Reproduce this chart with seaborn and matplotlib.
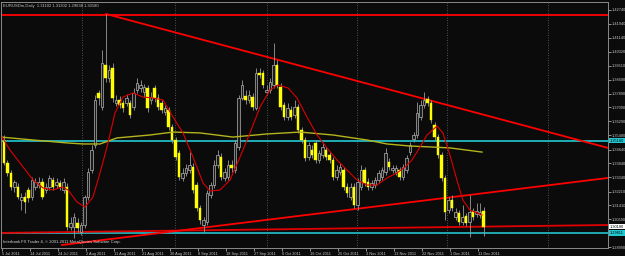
import matplotlib
matplotlib.use("Agg")
import matplotlib.pyplot as plt
import matplotlib.transforms as mtransforms
import numpy as np
import pandas as pd
import seaborn as sns

# ---------------- data ----------------
date_labels = ["5 Jul 2011", "14 Jul 2011", "24 Jul 2011", "2 Aug 2011", "11 Aug 2011",
               "21 Aug 2011", "30 Aug 2011", "8 Sep 2011", "18 Sep 2011", "27 Sep 2011",
               "6 Oct 2011", "16 Oct 2011", "25 Oct 2011", "3 Nov 2011", "13 Nov 2011",
               "22 Nov 2011", "1 Dec 2011", "11 Dec 2011"]

opens = [1.3520, 1.3387, 1.3329, 1.3247, 1.3247, 1.3172, 1.3189, 1.3230, 1.3189, 1.3247,
         1.3259, 1.3276, 1.3230, 1.3247, 1.3288, 1.3259, 1.3271, 1.3230, 1.3247, 1.3015,
         1.3015, 1.3039, 1.2986, 1.3027, 1.3189, 1.3346, 1.3491, 1.3793, 1.3711, 1.3955,
         1.3880, 1.3938, 1.3735, 1.3752, 1.3735, 1.3735, 1.3735, 1.3711, 1.3810, 1.3822,
         1.3798, 1.3822, 1.3752, 1.3822, 1.3764, 1.3735, 1.3682, 1.3694, 1.3595, 1.3520,
         1.3445, 1.3300, 1.3329, 1.3346, 1.3363, 1.3259, 1.3126, 1.3027, 1.3044, 1.3201,
         1.3259, 1.3375, 1.3421, 1.3300, 1.3305, 1.3375, 1.3346, 1.3479, 1.3764, 1.3775,
         1.3752, 1.3769, 1.3706, 1.3909, 1.3909, 1.3798, 1.3810, 1.3839, 1.3955, 1.3827,
         1.3723, 1.3653, 1.3694, 1.3665, 1.3711, 1.3578, 1.3520, 1.3421, 1.3462, 1.3503,
         1.3404, 1.3433, 1.3462, 1.3433, 1.3404, 1.3305, 1.3334, 1.3346, 1.3247, 1.3189,
         1.3247, 1.3143, 1.3247, 1.3346, 1.3276, 1.3247, 1.3259, 1.3288, 1.3305, 1.3334,
         1.3392, 1.3346, 1.3334, 1.3346, 1.3305, 1.3346, 1.3450, 1.3526, 1.3549, 1.3653,
         1.3723, 1.3758, 1.3735, 1.3607, 1.3537, 1.3433, 1.3300, 1.3114, 1.3172, 1.3074,
         1.3097, 1.3044, 1.3079, 1.3044, 1.3108, 1.3091, 1.3085, 1.31102]

highs = [1.3549, 1.3404, 1.3346, 1.3288, 1.3271, 1.3213, 1.3218, 1.3247, 1.3305, 1.3300,
         1.3305, 1.3300, 1.3271, 1.3317, 1.3305, 1.3300, 1.3288, 1.3300, 1.3271, 1.3074,
         1.3097, 1.3068, 1.3044, 1.3201, 1.3358, 1.3491, 1.3781, 1.3810, 1.4042, 1.4251,
         1.3955, 1.3967, 1.3781, 1.3775, 1.3752, 1.3787, 1.3752, 1.3822, 1.3880, 1.3868,
         1.3845, 1.3839, 1.3798, 1.3839, 1.3787, 1.3752, 1.3723, 1.3711, 1.3613, 1.3537,
         1.3462, 1.3358, 1.3381, 1.3450, 1.3387, 1.3276, 1.3143, 1.3074, 1.3230, 1.3276,
         1.3404, 1.3462, 1.3445, 1.3358, 1.3404, 1.3404, 1.3520, 1.3781, 1.3868, 1.3810,
         1.3810, 1.3793, 1.3938, 1.3938, 1.3926, 1.3839, 1.3880, 1.4083, 1.3984, 1.3851,
         1.3740, 1.3735, 1.3717, 1.3752, 1.3729, 1.3595, 1.3537, 1.3508, 1.3491, 1.3520,
         1.3462, 1.3503, 1.3479, 1.3450, 1.3421, 1.3375, 1.3387, 1.3363, 1.3271, 1.3271,
         1.3271, 1.3300, 1.3375, 1.3363, 1.3300, 1.3288, 1.3305, 1.3346, 1.3363, 1.3474,
         1.3416, 1.3375, 1.3375, 1.3363, 1.3381, 1.3433, 1.3508, 1.3566, 1.3740, 1.3752,
         1.3798, 1.3775, 1.3752, 1.3624, 1.3555, 1.3450, 1.3317, 1.3189, 1.3201, 1.3126,
         1.3114, 1.3143, 1.3097, 1.3201, 1.3126, 1.3155, 1.3155, 1.31302]

lows = [1.3375, 1.3311, 1.3230, 1.3218, 1.3178, 1.3114, 1.3097, 1.3160, 1.3172, 1.3230,
        1.3242, 1.3178, 1.3213, 1.3230, 1.3230, 1.3242, 1.3230, 1.3213, 1.2998, 1.2998,
        1.2952, 1.2986, 1.2969, 1.3010, 1.3172, 1.3329, 1.3474, 1.3723, 1.3694, 1.3856,
        1.3856, 1.3740, 1.3717, 1.3706, 1.3682, 1.3717, 1.3648, 1.3694, 1.3793, 1.3798,
        1.3769, 1.3682, 1.3729, 1.3740, 1.3694, 1.3677, 1.3665, 1.3578, 1.3503, 1.3404,
        1.3288, 1.3282, 1.3311, 1.3329, 1.3213, 1.3108, 1.3033, 1.2986, 1.3027, 1.3184,
        1.3242, 1.3358, 1.3288, 1.3282, 1.3288, 1.3334, 1.3329, 1.3462, 1.3752, 1.3729,
        1.3735, 1.3694, 1.3694, 1.3880, 1.3822, 1.3781, 1.3793, 1.3822, 1.3822, 1.3694,
        1.3636, 1.3636, 1.3636, 1.3648, 1.3561, 1.3503, 1.3398, 1.3404, 1.3416, 1.3387,
        1.3387, 1.3416, 1.3404, 1.3387, 1.3288, 1.3288, 1.3317, 1.3230, 1.3189, 1.3172,
        1.3126, 1.3114, 1.3230, 1.3253, 1.3230, 1.3230, 1.3242, 1.3271, 1.3288, 1.3317,
        1.3346, 1.3329, 1.3317, 1.3288, 1.3288, 1.3329, 1.3433, 1.3508, 1.3532, 1.3636,
        1.3706, 1.3717, 1.3619, 1.3520, 1.3416, 1.3282, 1.3056, 1.3097, 1.3108, 1.3056,
        1.3027, 1.3027, 1.3021, 1.2957, 1.3056, 1.3074, 1.3068, 1.29638]

closes = [1.3387, 1.3329, 1.3247, 1.3276, 1.3189, 1.3189, 1.3160, 1.3184, 1.3288, 1.3276,
          1.3276, 1.3189, 1.3247, 1.3300, 1.3247, 1.3276, 1.3247, 1.3276, 1.3015, 1.3039,
          1.3074, 1.3010, 1.3027, 1.3189, 1.3334, 1.3462, 1.3752, 1.3764, 1.3967, 1.3880,
          1.3926, 1.3764, 1.3752, 1.3723, 1.3706, 1.3764, 1.3665, 1.3793, 1.3851, 1.3839,
          1.3827, 1.3706, 1.3769, 1.3764, 1.3711, 1.3694, 1.3706, 1.3595, 1.3520, 1.3421,
          1.3305, 1.3329, 1.3358, 1.3375, 1.3230, 1.3126, 1.3056, 1.3056, 1.3213, 1.3259,
          1.3375, 1.3433, 1.3305, 1.3334, 1.3375, 1.3358, 1.3503, 1.3764, 1.3839, 1.3752,
          1.3781, 1.3711, 1.3909, 1.3897, 1.3839, 1.3810, 1.3856, 1.3955, 1.3839, 1.3711,
          1.3653, 1.3706, 1.3653, 1.3711, 1.3578, 1.3520, 1.3416, 1.3491, 1.3433, 1.3404,
          1.3445, 1.3479, 1.3421, 1.3404, 1.3305, 1.3346, 1.3363, 1.3247, 1.3213, 1.3247,
          1.3143, 1.3276, 1.3346, 1.3271, 1.3247, 1.3271, 1.3288, 1.3329, 1.3346, 1.3445,
          1.3363, 1.3358, 1.3358, 1.3305, 1.3363, 1.3416, 1.3491, 1.3549, 1.3677, 1.3723,
          1.3752, 1.3735, 1.3636, 1.3537, 1.3433, 1.3300, 1.3102, 1.3172, 1.3126, 1.3102,
          1.3044, 1.3074, 1.3039, 1.3102, 1.3074, 1.3108, 1.3102, 1.30180]

# fast (red) moving average, sampled along the bars
fast_ma_x = [-0.57, 1.71, 4.57, 8.29, 11.14, 14.0, 16.57, 18.29, 20.86, 23.14, 25.43, 27.43,
             29.43, 31.71, 34.0, 36.86, 39.71, 42.57, 45.43, 48.29, 51.14, 54.0, 56.86, 58.86,
             61.71, 64.57, 67.43, 70.29, 73.14, 76.0, 78.29, 81.14, 83.71, 86.57, 89.43, 92.29,
             95.14, 98.0, 100.86, 103.71, 106.57, 109.43, 112.29, 114.57, 116.57, 118.86, 120.86,
             123.7, 125.4, 127.4, 129.4, 131.1, 133.1, 136.6]
fast_ma_y = [1.3537, 1.3462, 1.3387, 1.3288, 1.3242, 1.3230, 1.3247, 1.3230, 1.3160, 1.3131,
             1.3189, 1.3329, 1.3479, 1.3677, 1.3769, 1.3793, 1.3769, 1.3764, 1.3752, 1.3653,
             1.3561, 1.3421, 1.3271, 1.3224, 1.3230, 1.3288, 1.3421, 1.3561, 1.3711, 1.3810,
             1.3839, 1.3822, 1.3764, 1.3653, 1.3549, 1.3474, 1.3404, 1.3346, 1.3288, 1.3259,
             1.3259, 1.3300, 1.3329, 1.3363, 1.3404, 1.3479, 1.3549, 1.3601, 1.3561, 1.3433,
             1.3288, 1.3172, 1.3114, 1.3085]

# slow (olive) moving average
slow_ma_x = [-0.86, 8.29, 18.0, 22.57, 27.43, 32.29, 41.71, 48.29, 56.0, 65.43, 75.14, 84.57,
             94.0, 103.71, 109.43, 116.0, 122.57, 127.43, 136.57]
slow_ma_y = [1.3537, 1.3520, 1.3503, 1.3497, 1.3497, 1.3532, 1.3549, 1.3566, 1.3561, 1.3537,
             1.3555, 1.3566, 1.3549, 1.3520, 1.3497, 1.3485, 1.3479, 1.3474, 1.3450]

price_ticks = [1.4274, 1.4194, 1.4114, 1.4032, 1.3951, 1.3869, 1.3789, 1.3709, 1.3629, 1.3548,
               1.3464, 1.3384, 1.3304, 1.3221, 1.3141, 1.3059, 1.2899]
price_tick_labels = ["1.42740", "1.41940", "1.41140", "1.40320", "1.39510", "1.38690", "1.37890",
                     "1.37090", "1.36290", "1.35480", "1.34640", "1.33840", "1.33040", "1.32210",
                     "1.31410", "1.30590", "1.28990"]

month_grid = [22.3, 48.9, 75.1, 100.9, 126.6, 155.4]

resistance_level = 1.4245
cyan_upper_level = 1.3516
cyan_lower_level = 1.29811
bid_price = 1.30180
down_trend_x = [29.14, 172.6]
down_trend_y = [1.4251, 1.3474]
up_trend_x = [16.6, 172.6]
up_trend_y = [1.2911, 1.3300]
base_trend_x = [-0.86, 172.6]
base_trend_y = [1.2981, 1.3027]

header = "EURUSDm,Daily  1.31102 1.31302 1.29638 1.30180"
footer = "Interbank FX Trader 4, \u00a9 2001-2011 MetaQuotes Software Corp."

# ---------------- drawing ----------------
BG = "#0b0b0b"
TXT = "#c8c8c8"
FONT = "Liberation Sans"
FS_DATE = 2.8
FS_PRICE = 2.8
FS_TXT = 3.0

df = pd.DataFrame({"open": opens, "high": highs, "low": lows, "close": closes})
df["idx"] = np.arange(len(df))
df["bull"] = df["close"] >= df["open"]

fig = plt.figure(figsize=(6.25, 2.56), dpi=100, facecolor=BG)
ax = fig.add_axes([1 / 625, 8 / 256, 607 / 625, 246 / 256])
ax.set_facecolor(BG)

xmin, xmax = -0.857, 172.57
ymin, ymax = 1.28936, 1.43204
ax.set_xlim(xmin, xmax)
ax.set_ylim(ymin, ymax)

# month grid
for g in month_grid:
    ax.axvline(g, color="#6a6a6a", lw=0.6, ls=(0, (1, 2)), zorder=1)

# horizontal levels and trend lines
ax.axhline(resistance_level, color="#ff0000", lw=1.3, zorder=2)
ax.axhline(cyan_upper_level, color="#22c8d2", lw=1.2, zorder=2)
ax.axhline(cyan_lower_level, color="#22b4be", lw=1.3, zorder=2)
ax.plot(base_trend_x, base_trend_y, color="#e00000", lw=1.3, zorder=2)
ax.plot(down_trend_x, down_trend_y, color="#ff0000", lw=1.3, zorder=2)
ax.plot(up_trend_x, up_trend_y, color="#ff0000", lw=1.3, zorder=2)

# candles
ax.vlines(df["idx"], df["low"], df["high"], color="#9a9a9a", lw=0.6, zorder=3)
bull = df[df["bull"]]
bear = df[~df["bull"]]
ax.bar(bull["idx"], (bull["close"] - bull["open"]).clip(lower=0.00015), bottom=bull["open"],
       width=0.62, color="#1a1a1a", edgecolor="#b4b4b4", linewidth=0.5, zorder=4)
ax.bar(bear["idx"], (bear["open"] - bear["close"]).clip(lower=0.00015), bottom=bear["close"],
       width=0.62, color="#ffff00", edgecolor="#ffff00", linewidth=0.3, zorder=4)

# moving averages via seaborn
sns.lineplot(x=slow_ma_x, y=slow_ma_y, ax=ax, color="#b4b41e", lw=1.0, zorder=5,
             sort=False, estimator=None)
sns.lineplot(x=fast_ma_x, y=fast_ma_y, ax=ax, color="#dd0000", lw=0.8, zorder=6,
             sort=False, estimator=None)

# axes styling
for s in ax.spines.values():
    s.set_color("#8a8a8a")
    s.set_linewidth(0.7)

ax.yaxis.tick_right()
ax.set_yticks(price_ticks)
ax.set_yticklabels(price_tick_labels)
ax.tick_params(axis="y", colors=TXT, labelsize=FS_PRICE, length=2, width=0.5, pad=0.8,
               labelcolor=TXT)

label_pos = [8 * k - 0.6 for k in range(len(date_labels))]
ax.set_xticks(label_pos)
ax.set_xticklabels(date_labels, ha="left")
ax.tick_params(axis="x", colors=TXT, labelsize=FS_DATE, length=2, width=0.5, pad=0.8,
               labelcolor=TXT)
for lab in ax.get_xticklabels() + ax.get_yticklabels():
    lab.set_fontfamily(FONT)

ax.set_xlabel("")
ax.set_ylabel("")

# price boxes on the right axis
tr = mtransforms.blended_transform_factory(ax.transAxes, ax.transData)
for val, txt, fc in [(cyan_upper_level, "1.35160", "#22c8d2"),
                     (bid_price, "1.30180", "#ffffff"),
                     (cyan_lower_level, "1.29811", "#22c8d2")]:
    ax.text(1.003, val, txt, transform=tr, fontsize=FS_PRICE, family=FONT, color="#000000",
            va="center", ha="left", zorder=10, clip_on=False,
            bbox=dict(boxstyle="square,pad=0.2", fc=fc, ec="none"))

fig.text(3 / 625, 1 - 6 / 256, header, fontsize=FS_TXT, family=FONT, color=TXT,
         va="center", ha="left")
fig.text(3 / 625, 1 - 242 / 256, footer, fontsize=FS_TXT, family=FONT, color="#d8d8d8",
         va="center", ha="left")

fig.savefig("out.png", dpi=100, facecolor=BG)
